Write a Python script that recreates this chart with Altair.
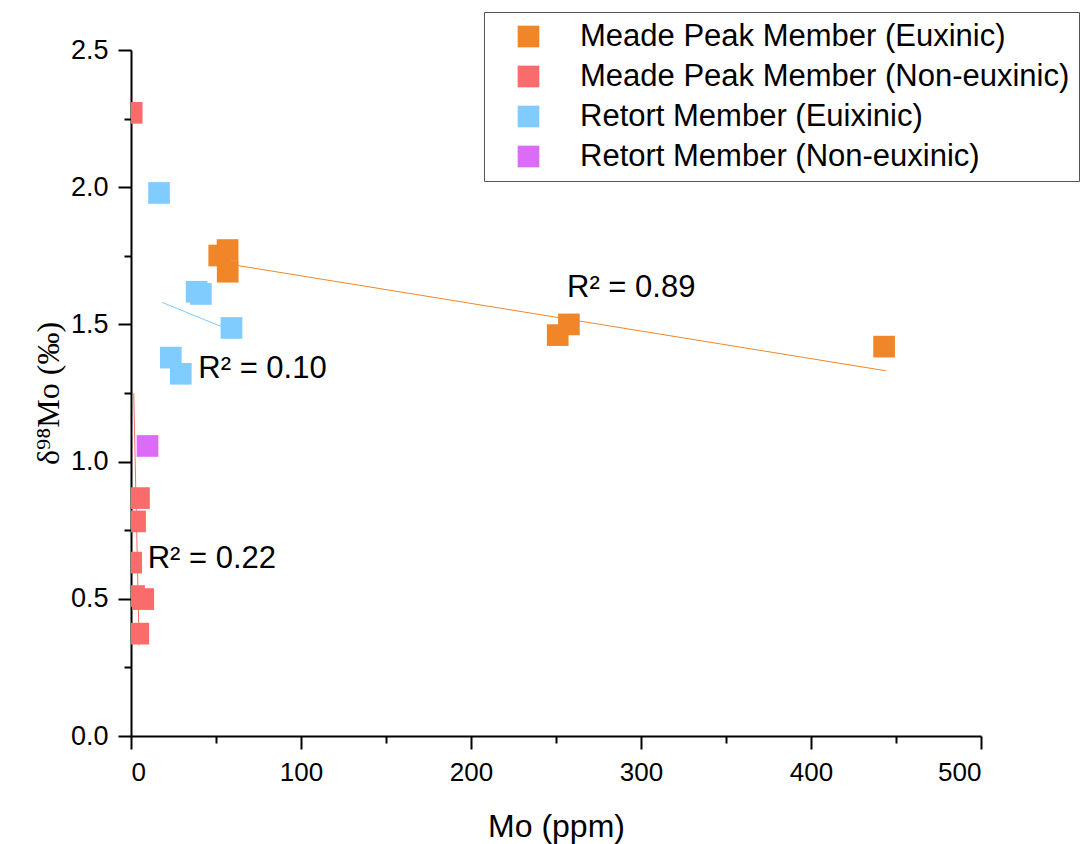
import altair as alt
import pandas as pd

# ---- data ----
groups = [
    "Meade Peak Member (Euxinic)",
    "Meade Peak Member (Non-euxinic)",
    "Retort Member (Euixinic)",
    "Retort Member (Non-euxinic)",
]
colors = ["#F08628", "#FA6B6B", "#80CBFF", "#DC6CF8"]

mp_eux_x = [51.9, 56.8, 56.9, 251.0, 257.6, 443.0]
mp_eux_y = [1.751, 1.771, 1.692, 1.461, 1.500, 1.419]

mp_non_x = [0.4, 4.7, 2.4, 0.1, 1.8, 7.2, 4.3]
mp_non_y = [2.271, 0.867, 0.782, 0.632, 0.510, 0.499, 0.373]

rt_eux_x = [16.5, 38.6, 41.1, 59.1, 23.4, 29.3]
rt_eux_y = [1.979, 1.619, 1.611, 1.487, 1.379, 1.320]

rt_non_x = [9.7]
rt_non_y = [1.057]

# fitted trend lines (end points)
fit_group = [groups[0], groups[0], groups[1], groups[1], groups[2], groups[2]]
fit_x = [49.4, 444.0, 1.6, 4.8, 18.4, 59.1]
fit_y = [1.728, 1.331, 1.249, 0.330, 1.580, 1.477]

# R² annotations
ann_text = ["R² = 0.89", "R² = 0.10", "R² = 0.22"]
ann_x = [256.5, 39.6, 9.8]
ann_y = [1.600, 1.304, 0.611]

x_ticks = [0, 50, 100, 150, 200, 250, 300, 350, 400, 450, 500]
y_ticks = [0, 0.25, 0.5, 0.75, 1.0, 1.25, 1.5, 1.75, 2.0, 2.25, 2.5]

# ---- tables ----
rows = []
for g, xs, ys in zip(groups, [mp_eux_x, mp_non_x, rt_eux_x, rt_non_x],
                     [mp_eux_y, mp_non_y, rt_eux_y, rt_non_y]):
    for a, b in zip(xs, ys):
        rows.append({"group": g, "mo": a, "d98": b})
pts = pd.DataFrame(rows)
fits = pd.DataFrame({"group": fit_group, "mo": fit_x, "d98": fit_y})
anns = pd.DataFrame({"text": ann_text, "mo": ann_x, "d98": ann_y})

FONT = "Liberation Sans"

xscale = alt.Scale(domain=[0, 500], nice=False, zero=False)
yscale = alt.Scale(domain=[0, 2.5], nice=False, zero=False)
cscale = alt.Scale(domain=groups, range=colors)

common_axis = dict(
    grid=False, domainColor="black", domainWidth=2,
    tickColor="black", tickWidth=2, labelColor="black", titleColor="black",
    labelPadding=10, titleFontSize=32,
    labelFont=FONT, titleFontWeight="normal",
)

xaxis = alt.Axis(
    values=x_ticks, format="d", title="Mo (ppm)",
    labelExpr="datum.value % 100 == 0 ? datum.label : ''",
    tickSize={"condition": {"test": "datum.value % 100 == 0", "value": 13}, "value": 7},
    labelFontSize=26, titlePadding=26, titleFont=FONT, **common_axis,
)
yaxis = alt.Axis(
    values=y_ticks, format=".1f", title="δ⁹⁸Mo (‰)",
    labelExpr="(datum.value * 2) % 1 == 0 ? datum.label : ''",
    tickSize={"condition": {"test": "(datum.value * 2) % 1 == 0", "value": 13}, "value": 7},
    labelFontSize=27, titlePadding=5, titleFont="Liberation Serif", **common_axis,
)

points = alt.Chart(pts).mark_point(
    shape="square", filled=True, size=470, opacity=1, strokeWidth=0, clip=True
).encode(
    x=alt.X("mo:Q", scale=xscale, axis=xaxis),
    y=alt.Y("d98:Q", scale=yscale, axis=yaxis),
    color=alt.Color(
        "group:N", scale=cscale,
        legend=alt.Legend(
            title=None, orient="none", legendX=353, legendY=-38,
            symbolType="square", symbolSize=470, symbolStrokeWidth=0,
            symbolOpacity=1, symbolOffset=20, labelOffset=36,
            labelFontSize=31, labelFont=FONT, labelLimit=700, labelColor="black",
            rowPadding=8, padding=9, strokeColor="#555555",
            fillColor="white",
        ),
    ),
)

lines = alt.Chart(fits).mark_line(strokeWidth=1, clip=True).encode(
    x=alt.X("mo:Q", scale=xscale),
    y=alt.Y("d98:Q", scale=yscale),
    color=alt.Color("group:N", scale=cscale, legend=None),
    detail="group:N",
)

labels = alt.Chart(anns).mark_text(
    align="left", baseline="alphabetic", font=FONT, fontSize=31, color="black"
).encode(
    x=alt.X("mo:Q", scale=xscale),
    y=alt.Y("d98:Q", scale=yscale),
    text="text:N",
)

chart = alt.layer(points, lines, labels).properties(
    width=850, height=686,
    background="white",
    autosize=alt.AutoSizeParams(type="none"),
    padding={"left": 131, "top": 50, "right": 100, "bottom": 108},
).configure_view(stroke=None)

chart.save("out.html", embed_options={"renderer": "svg", "actions": False})
